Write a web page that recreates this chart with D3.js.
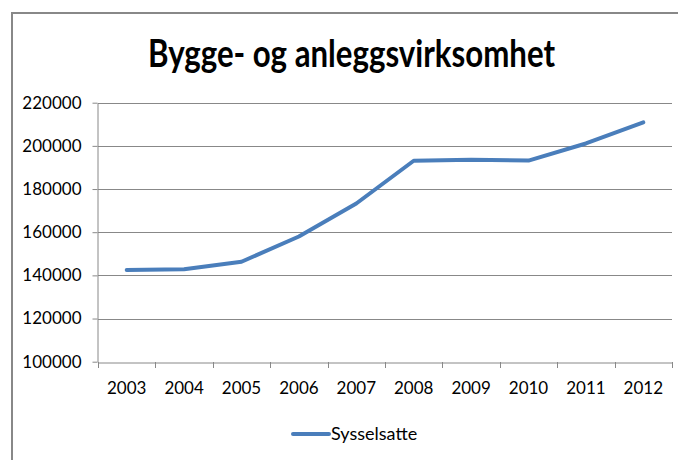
<!DOCTYPE html>
<html>
<head>
<meta charset="utf-8">
<script src="https://cdn.jsdelivr.net/npm/d3@7"></script>
<style>
  body { margin: 0; background: #fff; }
  text { font-family: Lato, "Open Sans", sans-serif; fill: #000; }
</style>
</head>
<body>
<div id="chart"></div>
<script>
// data
const years = ["2003", "2004", "2005", "2006", "2007", "2008", "2009", "2010", "2011", "2012"];
const sysselsatte = [142500, 142800, 146300, 158000, 173300, 193100, 193600, 193200, 201100, 210900];
const yTicks = [100000, 120000, 140000, 160000, 180000, 200000, 220000];
const title = "Bygge- og anleggsvirksomhet";
const seriesName = "Sysselsatte";

const svg_width = 678, svg_height = 460;
const plot = {left: 98, right: 672, top: 102.7, bottom: 361.7};
const blue = "#4a7ebb", grey = "#888888";

const svg = d3.select("#chart")
    .append("svg")
    .attr("width", svg_width)
    .attr("height", svg_height);

// chart frame (only top and left edges are in view)
svg.append("rect")
    .attr("x", 12).attr("y", 13)
    .attr("width", 700).attr("height", 500)
    .attr("fill", "none")
    .attr("stroke", grey)
    .attr("stroke-width", 2);

svg.append("text")
    .attr("x", 148)
    .attr("y", 67)
    .attr("textLength", 407)
    .attr("lengthAdjust", "spacingAndGlyphs")
    .style("font-size", "38px")
    .style("font-weight", "bold")
    .text(title);

const x = d3.scaleBand()
    .domain(years)
    .range([plot.left, plot.right]);

const y = d3.scaleLinear()
    .domain([100000, 220000])
    .range([plot.bottom, plot.top]);

// gridlines
svg.append("g")
    .selectAll("line")
    .data(yTicks.slice(1))
    .join("line")
        .attr("x1", plot.left).attr("x2", plot.right)
        .attr("y1", d => Math.round(y(d)) + 0.5)
        .attr("y2", d => Math.round(y(d)) + 0.5)
        .attr("stroke", grey);

// y axis
const yAxis = svg.append("g")
    .attr("transform", `translate(${plot.left - 0.5},0)`)
    .call(d3.axisLeft(y).tickValues(yTicks).tickFormat(d3.format("d")).tickSize(5).tickPadding(11).tickSizeOuter(0));
yAxis.select(".domain").attr("stroke", grey);
yAxis.selectAll(".tick line").attr("stroke", grey);
yAxis.selectAll(".tick text").style("font-size", "17px").attr("font-family", null);

// x axis, ticks on category boundaries
const xAxis = svg.append("g")
    .attr("transform", `translate(0,${Math.round(plot.bottom) + 0.5})`)
    .call(d3.axisBottom(x).tickSize(0).tickPadding(19));
xAxis.select(".domain").attr("stroke", grey);
xAxis.selectAll(".tick text").style("font-size", "17px").attr("font-family", null);

svg.append("g")
    .selectAll("line")
    .data(years.concat(["end"]))
    .join("line")
        .attr("x1", (d, i) => Math.round(plot.left + i * x.step()) + 0.5)
        .attr("x2", (d, i) => Math.round(plot.left + i * x.step()) + 0.5)
        .attr("y1", Math.round(plot.bottom))
        .attr("y2", Math.round(plot.bottom) + 6)
        .attr("stroke", grey);

// the series line
const line = d3.line()
    .x((d, i) => x(years[i]) + x.bandwidth() / 2)
    .y(d => y(d));

svg.append("path")
    .datum(sysselsatte)
    .attr("fill", "none")
    .attr("stroke", blue)
    .attr("stroke-width", 4)
    .attr("stroke-linejoin", "round")
    .attr("stroke-linecap", "round")
    .attr("d", line);

// legend
const legend = svg.append("g").attr("transform", "translate(293,434)");
legend.append("line")
    .attr("x1", 0).attr("x2", 36)
    .attr("stroke", blue)
    .attr("stroke-width", 4)
    .attr("stroke-linecap", "round");
legend.append("text")
    .attr("x", 38)
    .attr("dy", "0.35em")
    .style("font-size", "18px")
    .text(seriesName);
</script>
</body>
</html>
